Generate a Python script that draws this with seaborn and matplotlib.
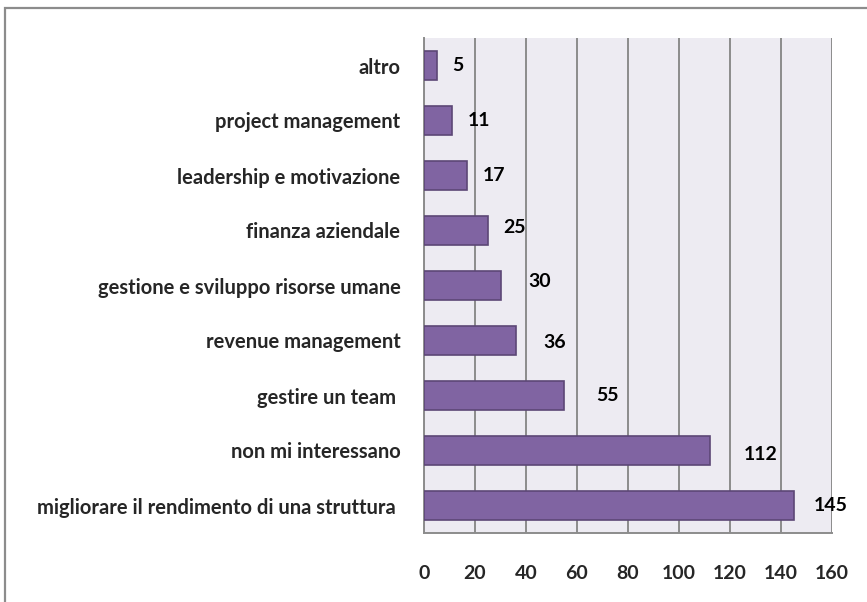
import numpy as np
import pandas as pd
import matplotlib.pyplot as plt
import seaborn as sns
from matplotlib.patches import Rectangle

categories = ['altro', 'project management', 'leadership e motivazione',
              'finanza aziendale', 'gestione e sviluppo risorse umane',
              'revenue management', 'gestire un team ', 'non mi interessano',
              'migliorare il rendimento di una struttura ']
values = [5, 11, 17, 25, 30, 36, 55, 112, 145]
x_ticks = [0, 20, 40, 60, 80, 100, 120, 140, 160]

# spostamento delle etichette (come nel grafico excel)
label_dx = [8.3, 10.6, 10.5, 10.5, 15.5, 15.4, 17, 20.2, 14.4]
label_dy = [0, 0, 0, -0.05, -0.07, 0.04, 0, 0.07, 0]

df = pd.DataFrame({'voce': categories, 'valore': values})

sns.set_style('white')
plt.rcParams['font.family'] = ['Lato', 'DejaVu Sans']
plt.rcParams['font.weight'] = 'bold'

fig = plt.figure(figsize=(8.67, 6.02), dpi=100)
# area del grafico: x 424-832 px, y 38-533 px
ax = fig.add_axes([424 / 867, 1 - 533 / 602, 408 / 867, 495 / 602])

sns.barplot(x='valore', y='voce', data=df, orient='h', color='#8064A2',
            saturation=1, width=0.515, edgecolor='#5C4776', linewidth=1.2,
            ax=ax, zorder=3)

ax.set_facecolor('#EDEBF2')
ax.set_xlim(0, 160)
ax.set_ylim(len(categories) - 0.5, -0.5)
ax.set_xticks(x_ticks)
ax.set_xticklabels([str(t) for t in x_ticks], fontsize=14, fontweight='bold')
ax.set_yticks(np.arange(len(categories)))
ax.set_yticklabels(categories, fontsize=14.5, fontweight='bold')
ax.set_yticks(np.arange(len(categories) + 1) - 0.5, minor=True)
ax.tick_params(axis='y', which='major', length=0, pad=17)
ax.tick_params(axis='y', which='minor', length=4, width=1.2, color='#8C8C8C', direction='out')
ax.tick_params(axis='x', length=4, width=1.2, color='#8C8C8C', direction='out', pad=19)
ax.grid(axis='x', color='#8C8C8C', linewidth=1.4, zorder=0)
ax.set_axisbelow(True)
ax.set_xlabel('')
ax.set_ylabel('')
for side in ['top', 'right']:
    ax.spines[side].set_visible(False)
for side in ['left', 'bottom']:
    ax.spines[side].set_color('#8C8C8C')
    ax.spines[side].set_linewidth(1.4)

for i, v in enumerate(values):
    ax.text(v + label_dx[i], i + label_dy[i], str(v), ha='center', va='center',
            fontsize=14, fontweight='bold', color='black', zorder=4)

# cornice esterna (bordo destro e inferiore fuori dall'immagine)
fig.patches.append(Rectangle((4.5 / 867, -0.05), 1.2, 1.05 - 8.5 / 602,
                             transform=fig.transFigure, fill=False,
                             edgecolor='#8C8C8C', linewidth=1.6))

fig.savefig('out.png', dpi=100)
